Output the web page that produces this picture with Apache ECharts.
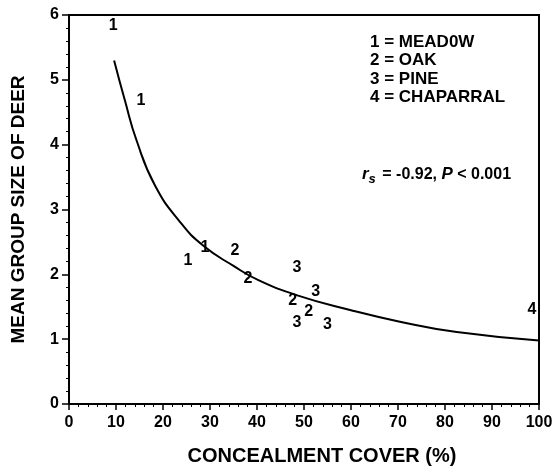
<!DOCTYPE html>
<html>
<head>
<meta charset="utf-8">
<script src="https://cdn.jsdelivr.net/npm/echarts@6/dist/echarts.min.js"></script>
<style>
  html, body { margin: 0; padding: 0; background: #fff; }
  #chart { width: 557px; height: 471px; }
</style>
</head>
<body>
<div id="chart"></div>
<script>
// point positions: [cover %, mean group size]
const meadow = [[9.4, 5.83], [15.3, 4.68], [25.3, 2.21], [28.9, 2.42]]
const oak = [[35.3, 2.36], [38.1, 1.93], [47.6, 1.59], [51.0, 1.42]]
const pine = [[48.5, 2.11], [52.5, 1.73], [48.5, 1.26], [55.0, 1.23]]
const chaparral = [[98.5, 1.46]]

// fitted curve
const curveX = [9.6, 11.9, 14.4, 18.3, 23.6, 28.6, 35, 40.3, 48.4, 59.8, 70.4, 82.5, 100]
const curveY = [5.30, 4.68, 4.06, 3.37, 2.81, 2.44, 2.13, 1.91, 1.68, 1.45, 1.27, 1.11, 0.98]

const legendLines = ['1 = MEAD0W', '2 = OAK', '3 = PINE', '4 = CHAPARRAL']

const font = '"Liberation Sans", Arial, sans-serif'
const ink = '#000'

const chart = echarts.init(document.getElementById('chart'))

// each habitat point is drawn as its code digit, centred on the data point
const habitat = (name, code, data) => ({
  name,
  type: 'custom',
  data,
  encode: { x: 0, y: 1 },
  renderItem: (params, api) => {
    const pos = api.coord([api.value(0), api.value(1)])
    return {
      type: 'text',
      x: pos[0],
      y: pos[1],
      style: {
        text: code,
        fill: ink,
        font: `bold 16px ${font}`,
        align: 'center',
        verticalAlign: 'middle'
      }
    }
  },
  z: 5
})

const axisText = { color: ink, fontFamily: font, fontSize: 16, fontWeight: 'bold' }
const titleText = { color: ink, fontFamily: font, fontSize: 19, fontWeight: 'bold' }

chart.setOption({
  backgroundColor: '#fff',
  animation: false,
  grid: {
    left: 69, right: 18, top: 15, bottom: 65,
    show: true,
    borderColor: ink,
    borderWidth: 2
  },
  xAxis: {
    type: 'value',
    min: 0, max: 100, interval: 10,
    name: 'CONCEALMENT COVER (%)',
    nameLocation: 'middle',
    nameGap: 42,
    nameTextStyle: { ...titleText, fontSize: 20, padding: [0, 0, 0, 36] },
    axisLine: { show: true, lineStyle: { color: ink, width: 2 } },
    axisTick: { show: true, inside: false, length: 6, lineStyle: { color: ink, width: 1.5 } },
    minorTick: { show: true, splitNumber: 5, length: 3, lineStyle: { color: ink, width: 1 } },
    axisLabel: { ...axisText, margin: 11 },
    splitLine: { show: false }
  },
  yAxis: {
    type: 'value',
    min: 0, max: 6, interval: 1,
    name: 'MEAN GROUP SIZE OF DEER',
    nameLocation: 'middle',
    nameGap: 41,
    nameTextStyle: titleText,
    axisLine: { show: true, lineStyle: { color: ink, width: 2 } },
    axisTick: { show: true, inside: false, length: 7, lineStyle: { color: ink, width: 1.5 } },
    minorTick: { show: true, splitNumber: 5, length: 3, lineStyle: { color: ink, width: 1 } },
    axisLabel: { ...axisText, margin: 10 },
    splitLine: { show: false }
  },
  graphic: [
    {
      type: 'text',
      left: 370,
      top: 33,
      style: {
        text: legendLines.join('\n'),
        fill: ink,
        font: `bold 17px ${font}`,
        lineHeight: 18.5
      }
    },
    {
      type: 'text',
      left: 362,
      top: 166,
      style: {
        text: '{i|r}{sub|s}{n| = -0.92, }{i|P}{n| < 0.001}',
        rich: {
          i: { fill: ink, fontFamily: font, fontSize: 17, fontStyle: 'italic', fontWeight: 'bold' },
          sub: { fill: ink, fontFamily: font, fontSize: 13, fontStyle: 'italic', fontWeight: 'bold', padding: [10, 2, 0, 0] },
          n: { fill: ink, fontFamily: font, fontSize: 16, fontWeight: 'bold' }
        }
      }
    }
  ],
  series: [
    {
      type: 'line',
      data: curveX.map((x, i) => [x, curveY[i]]),
      smooth: 0.5,
      showSymbol: false,
      lineStyle: { color: ink, width: 2 },
      z: 3
    },
    habitat('Meadow', '1', meadow),
    habitat('Oak', '2', oak),
    habitat('Pine', '3', pine),
    habitat('Chaparral', '4', chaparral)
  ]
})
</script>
</body>
</html>
